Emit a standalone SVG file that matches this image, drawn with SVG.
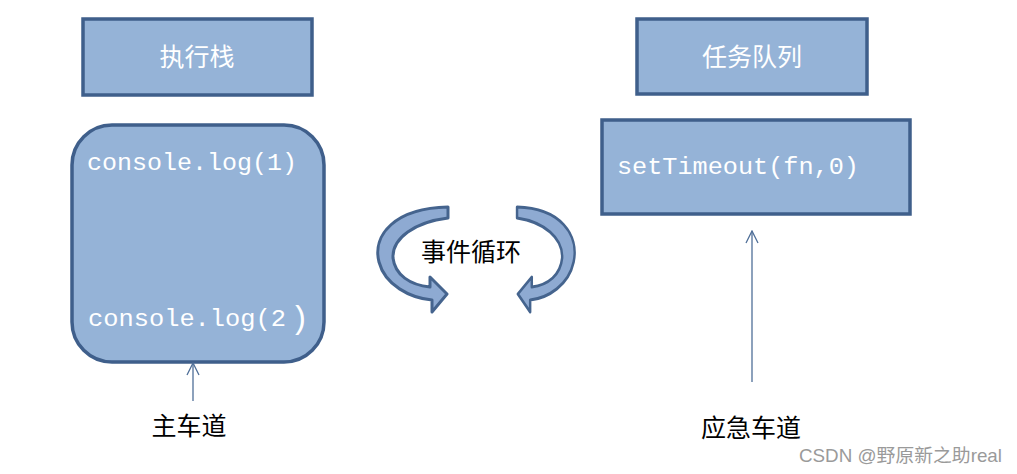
<svg xmlns="http://www.w3.org/2000/svg" width="1017" height="474" viewBox="0 0 1017 474">
<defs>
<style>
.box{fill:#95b3d7;stroke:#3f5f8b;stroke-width:3.5}
.title{font-family:"Noto Sans CJK SC","Noto Sans",sans-serif;font-size:25px;fill:#ffffff;text-anchor:middle}
.code{font-family:"Liberation Mono","DejaVu Sans Mono",monospace;font-size:23px;fill:#ffffff}
.label{font-family:"Noto Sans CJK SC","Noto Sans",sans-serif;font-size:25px;fill:#000000;text-anchor:middle}
.conn{stroke:#4f6f98;stroke-width:1.3;fill:none}
.loop{fill:#8eaad2;stroke:#45648e;stroke-width:3;stroke-linejoin:round}
</style>
<marker id="open" viewBox="0 0 14 14" refX="13" refY="7" markerWidth="14" markerHeight="14" markerUnits="userSpaceOnUse" orient="auto">
<path d="M1 1 L13 7 L1 13" fill="none" stroke="#4f6f98" stroke-width="1.3"/>
</marker>
<path id="loopShape" d="M448 207 C395 208 372 235 379 262 C385 285 410 298 432 300 L432 312 L447 294 L430 277 L430 287 C410 285 395 275 393 258 C392 238 415 222 448 218 Z"/>
</defs>
<rect width="1017" height="474" fill="#ffffff"/>

<g id="stack-title">
<rect class="box" x="83" y="19" width="229" height="76"/>
<text class="title" x="197" y="66">执行栈</text>
</g>

<g id="stack">
<rect class="box" x="72" y="125" width="252" height="237" rx="40" ry="40"/>
<text class="code" x="87" y="170" textLength="210" lengthAdjust="spacingAndGlyphs">console.log(1)</text>
<text class="code" x="88" y="326" textLength="198" lengthAdjust="spacingAndGlyphs">console.log(2</text>
<text class="code" x="290" y="328" style="font-size:32px">)</text>
</g>

<g id="queue-title">
<rect class="box" x="637" y="19" width="230" height="75"/>
<text class="title" x="752" y="66">任务队列</text>
</g>

<g id="queue">
<rect class="box" x="602" y="120" width="308" height="94"/>
<text class="code" x="617" y="174" textLength="242" lengthAdjust="spacingAndGlyphs">setTimeout(fn,0)</text>
</g>

<g id="event-loop">
<use href="#loopShape" class="loop"/>
<use href="#loopShape" class="loop" transform="translate(884.4,0) scale(-0.82,1)"/>
<text x="471" y="261" style="font-family:'Noto Sans CJK SC','Noto Sans',sans-serif;font-size:25px;fill:#000;text-anchor:middle">事件循环</text>
</g>

<g id="connectors">
<line class="conn" x1="193" y1="401" x2="193" y2="363" marker-end="url(#open)"/>
<line class="conn" x1="752" y1="382" x2="752" y2="231" marker-end="url(#open)"/>
</g>

<g id="main-lane">
<text class="label" x="189" y="435">主车道</text>
</g>

<g id="emergency-lane">
<text class="label" x="751" y="437">应急车道</text>
</g>

<text x="799" y="462" textLength="203" lengthAdjust="spacingAndGlyphs" style="font-family:'Liberation Sans','Noto Sans CJK SC',sans-serif;font-size:18.5px;fill:#9a9a9a">CSDN @野原新之助real</text>
</svg>
